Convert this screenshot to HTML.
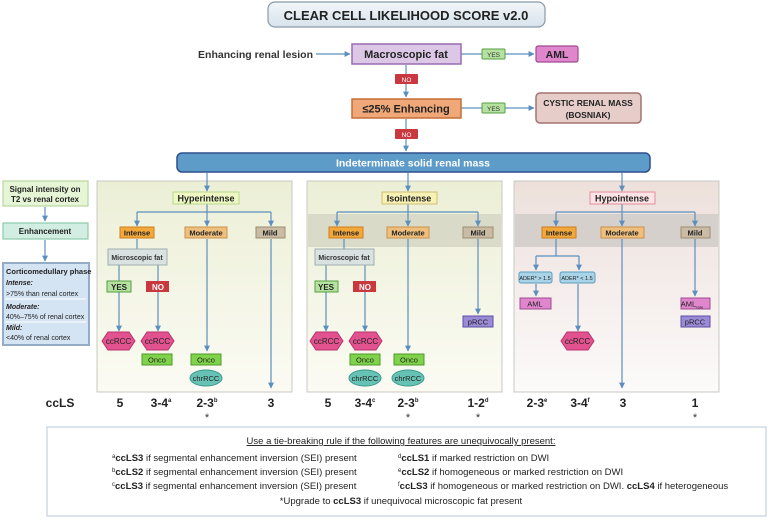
<!DOCTYPE html>
<html><head><meta charset="utf-8"><style>
html,body{margin:0;padding:0;background:#fff}
svg{display:block}
text{font-family:"Liberation Sans Narrow","Liberation Sans",sans-serif}
</style></head><body>
<svg width="774" height="523" viewBox="0 0 774 523" xmlns="http://www.w3.org/2000/svg">
<defs>
<marker id="a" viewBox="0 0 10 10" refX="9" refY="5" markerWidth="5" markerHeight="5" orient="auto"><path d="M0,0L10,5L0,10z" fill="#5b8fbf"/></marker>
<linearGradient id="g1" x1="0" y1="0" x2="0" y2="1"><stop offset="0" stop-color="#ecefd6"/><stop offset="1" stop-color="#fbfbf4"/></linearGradient>
<linearGradient id="g3" x1="0" y1="0" x2="0" y2="1"><stop offset="0" stop-color="#ede0db"/><stop offset="1" stop-color="#fcfafa"/></linearGradient>
<linearGradient id="tb" x1="0" y1="0" x2="0" y2="1"><stop offset="0" stop-color="#f2f6f9"/><stop offset="1" stop-color="#d7e3ec"/></linearGradient>
</defs>
<!-- title -->
<rect x="268" y="2" width="277" height="25" rx="7" fill="url(#tb)" stroke="#8a9aa6" stroke-width="1.2"/>
<text x="406" y="20" font-size="13" font-weight="bold" text-anchor="middle" fill="#222">CLEAR CELL LIKELIHOOD SCORE v2.0</text>
<!-- top flow -->
<text x="313" y="58" font-size="10.5" font-weight="bold" text-anchor="end" fill="#333">Enhancing renal lesion</text>
<g stroke="#5b8fbf" stroke-width="1.2" fill="none" marker-end="url(#a)">
<line x1="316" y1="54" x2="350" y2="54"/>
<line x1="505" y1="54" x2="534" y2="54"/>
<line x1="406" y1="65" x2="406" y2="97"/>
<line x1="505" y1="108" x2="534" y2="108"/>
<line x1="406" y1="119" x2="406" y2="151"/>
</g>
<line x1="461" y1="54" x2="482" y2="54" stroke="#5b8fbf" stroke-width="1.2"/>
<line x1="461" y1="108" x2="482" y2="108" stroke="#5b8fbf" stroke-width="1.2"/>
<rect x="352" y="44" width="109" height="20" fill="#dcc8e6" stroke="#9a6cb0" stroke-width="1.5"/>
<text x="406" y="58" font-size="11" font-weight="bold" text-anchor="middle" fill="#222">Macroscopic fat</text>
<rect x="482" y="49" width="23" height="10" rx="1" fill="#b6e2a1" stroke="#56a044"/>
<text x="493.5" y="57" font-size="6.5" text-anchor="middle" fill="#333">YES</text>
<rect x="536" y="46" width="42" height="16" rx="2" fill="#df86cc" stroke="#a04b92" stroke-width="1.2"/>
<text x="557" y="58" font-size="10.5" font-weight="bold" text-anchor="middle" fill="#222">AML</text>
<rect x="395" y="74" width="23" height="10" rx="1" fill="#c9373f"/>
<text x="406.5" y="82" font-size="6.5" text-anchor="middle" fill="#fff">NO</text>
<rect x="352" y="99" width="109" height="19" fill="#f0a878" stroke="#c46e39" stroke-width="1.5"/>
<text x="406" y="112.5" font-size="11" font-weight="bold" text-anchor="middle" fill="#222">≤25% Enhancing</text>
<rect x="482" y="103" width="23" height="10" rx="1" fill="#b6e2a1" stroke="#56a044"/>
<text x="493.5" y="111" font-size="6.5" text-anchor="middle" fill="#333">YES</text>
<rect x="536" y="93" width="105" height="30" rx="4" fill="#e6cdc9" stroke="#a07470" stroke-width="1.5"/>
<text x="588" y="106" font-size="8.5" font-weight="bold" text-anchor="middle" fill="#222">CYSTIC RENAL MASS</text>
<text x="588" y="118" font-size="8.5" font-weight="bold" text-anchor="middle" fill="#222">(BOSNIAK)</text>
<rect x="395" y="129" width="23" height="10" rx="1" fill="#c9373f"/>
<text x="406.5" y="137" font-size="6.5" text-anchor="middle" fill="#fff">NO</text>
<!-- indeterminate bar -->
<rect x="177" y="153" width="473" height="19" rx="5" fill="#5d9bc8" stroke="#2f4f8e" stroke-width="1.5"/>
<text x="413" y="166.5" font-size="10.5" font-weight="bold" text-anchor="middle" fill="#fff">Indeterminate  solid renal mass</text>
<!-- panels -->
<rect x="97" y="181" width="195" height="211" fill="url(#g1)" stroke="#c8c8c0"/>
<rect x="307" y="181" width="195" height="211" fill="url(#g1)" stroke="#c8c8c0"/>
<rect x="308" y="214" width="193" height="33" fill="#d9dac8"/>
<rect x="514" y="181" width="205" height="211" fill="url(#g3)" stroke="#c8c8c0"/>
<rect x="515" y="214" width="203" height="33" fill="#d6d0cd"/>
<!-- connectors -->
<g stroke="#5b8fbf" stroke-width="1.2" fill="none">
<line x1="207" y1="204" x2="207" y2="212"/><line x1="137" y1="212" x2="271" y2="212"/>
<line x1="408" y1="204" x2="408" y2="212"/><line x1="337" y1="212" x2="478" y2="212"/>
<line x1="622" y1="204" x2="622" y2="212"/><line x1="556" y1="212" x2="695" y2="212"/>
<line x1="137" y1="239" x2="137" y2="249"/>
<line x1="344" y1="239" x2="344" y2="249"/>
<line x1="556" y1="239" x2="556" y2="256"/><line x1="536" y1="256" x2="579" y2="256"/>
</g>
<g stroke="#5b8fbf" stroke-width="1.2" fill="none" marker-end="url(#a)">
<line x1="207" y1="173" x2="207" y2="191"/>
<line x1="408" y1="173" x2="408" y2="191"/>
<line x1="622" y1="173" x2="622" y2="191"/>
<line x1="137" y1="212" x2="137" y2="226"/><line x1="207" y1="212" x2="207" y2="226"/><line x1="271" y1="212" x2="271" y2="226"/>
<line x1="337" y1="212" x2="337" y2="226"/><line x1="408" y1="212" x2="408" y2="226"/><line x1="478" y1="212" x2="478" y2="226"/>
<line x1="556" y1="212" x2="556" y2="226"/><line x1="622" y1="212" x2="622" y2="226"/><line x1="695" y1="212" x2="695" y2="226"/>
<line x1="119" y1="292" x2="119" y2="331"/><line x1="158" y1="292" x2="158" y2="331"/>
<line x1="207" y1="239" x2="207" y2="351"/><line x1="271" y1="239" x2="271" y2="388"/>
<line x1="326" y1="292" x2="326" y2="331"/><line x1="365" y1="292" x2="365" y2="331"/>
<line x1="408" y1="239" x2="408" y2="351"/><line x1="478" y1="239" x2="478" y2="314"/>
<line x1="536" y1="256" x2="536" y2="270"/><line x1="579" y1="256" x2="579" y2="270"/>
<line x1="536" y1="284" x2="536" y2="296"/><line x1="578" y1="284" x2="578" y2="331"/>
<line x1="622" y1="239" x2="622" y2="388"/><line x1="695" y1="239" x2="695" y2="296"/>
</g>
<g stroke="#5b8fbf" stroke-width="1.2" fill="none">
<line x1="158" y1="265" x2="158" y2="281"/><line x1="119" y1="265" x2="119" y2="281"/>
<line x1="365" y1="265" x2="365" y2="281"/><line x1="326" y1="265" x2="326" y2="281"/>
</g>
<!-- level 1 labels -->
<rect x="173" y="192" width="66" height="12" fill="#eef8c4" stroke="#b8d88a"/>
<text x="206" y="201.5" font-size="9" font-weight="bold" text-anchor="middle" fill="#222">Hyperintense</text>
<rect x="382" y="192" width="55" height="12" fill="#f7f1b4" stroke="#cdbf72"/>
<text x="409" y="201.5" font-size="9" font-weight="bold" text-anchor="middle" fill="#222">Isointense</text>
<rect x="590" y="192" width="65" height="12" fill="#fbe3e6" stroke="#e38e9a"/>
<text x="622" y="201.5" font-size="9" font-weight="bold" text-anchor="middle" fill="#222">Hypointense</text>
<!-- enhancement labels -->
<g font-size="7.5" font-weight="bold" text-anchor="middle" fill="#222">
<rect x="120" y="227" width="34" height="11" fill="#f2a83a" stroke="#cf7e1c"/><text x="137" y="235.5">Intense</text>
<rect x="185" y="227" width="42" height="11" fill="#efc07d" stroke="#c9914a"/><text x="206" y="235.5">Moderate</text>
<rect x="256" y="227" width="29" height="11" fill="#c9bba4" stroke="#9d8d73"/><text x="270" y="235.5">Mild</text>
<rect x="329" y="227" width="34" height="11" fill="#f2a83a" stroke="#cf7e1c"/><text x="346" y="235.5">Intense</text>
<rect x="387" y="227" width="42" height="11" fill="#efc07d" stroke="#c9914a"/><text x="408" y="235.5">Moderate</text>
<rect x="463" y="227" width="30" height="11" fill="#c9bba4" stroke="#9d8d73"/><text x="478" y="235.5">Mild</text>
<rect x="542" y="227" width="34" height="11" fill="#f2a83a" stroke="#cf7e1c"/><text x="559" y="235.5">Intense</text>
<rect x="601" y="227" width="43" height="11" fill="#efc07d" stroke="#c9914a"/><text x="622" y="235.5">Moderate</text>
<rect x="681" y="227" width="29" height="11" fill="#c9bba4" stroke="#9d8d73"/><text x="695" y="235.5">Mild</text>
</g>
<!-- microscopic fat -->
<g font-size="7" font-weight="bold" text-anchor="middle" fill="#333">
<rect x="108" y="249" width="59" height="16" fill="#d9e1e1" stroke="#a0aeae"/><text x="137" y="260">Microscopic fat</text>
<rect x="315" y="249" width="59" height="16" fill="#d9e1e1" stroke="#a0aeae"/><text x="344" y="260">Microscopic fat</text>
</g>
<g font-size="8" font-weight="bold" text-anchor="middle">
<rect x="107" y="281" width="24" height="11" fill="#b6e2a1" stroke="#56a044"/><text x="119" y="290" fill="#222">YES</text>
<rect x="146" y="281" width="23" height="11" fill="#c9373f"/><text x="158" y="290" fill="#fff">NO</text>
<rect x="315" y="281" width="23" height="11" fill="#b6e2a1" stroke="#56a044"/><text x="326" y="290" fill="#222">YES</text>
<rect x="353" y="281" width="23" height="11" fill="#c9373f"/><text x="365" y="290" fill="#fff">NO</text>
</g>
<!-- hexagons -->
<g font-size="8" text-anchor="middle" fill="#222">
<polygon points="102,341 108,332 129,332 135,341 129,350 108,350" fill="#e2528f" stroke="#b8336c"/><text x="118.5" y="344">ccRCC</text>
<polygon points="141,341 147,332 168,332 174,341 168,350 147,350" fill="#e2528f" stroke="#b8336c"/><text x="157.5" y="344">ccRCC</text>
<polygon points="310,341 316,332 337,332 343,341 337,350 316,350" fill="#e2528f" stroke="#b8336c"/><text x="326.5" y="344">ccRCC</text>
<polygon points="349,341 355,332 376,332 382,341 376,350 355,350" fill="#e2528f" stroke="#b8336c"/><text x="365.5" y="344">ccRCC</text>
<polygon points="561,341 567,332 588,332 594,341 588,350 567,350" fill="#e2528f" stroke="#b8336c"/><text x="577.5" y="344">ccRCC</text>
</g>
<g font-size="7.5" text-anchor="middle" fill="#222">
<rect x="142" y="354" width="30" height="11" fill="#7fd34a" stroke="#4f9a2a"/><text x="157" y="362.5">Onco</text>
<rect x="191" y="354" width="30" height="11" fill="#7fd34a" stroke="#4f9a2a"/><text x="206" y="362.5">Onco</text>
<rect x="350" y="354" width="30" height="11" fill="#7fd34a" stroke="#4f9a2a"/><text x="365" y="362.5">Onco</text>
<rect x="394" y="354" width="30" height="11" fill="#7fd34a" stroke="#4f9a2a"/><text x="409" y="362.5">Onco</text>
<ellipse cx="206" cy="378" rx="16" ry="8" fill="#66c2b4" stroke="#3c9a8c"/><text x="206" y="381">chrRCC</text>
<ellipse cx="365" cy="378" rx="16" ry="8" fill="#66c2b4" stroke="#3c9a8c"/><text x="365" y="381">chrRCC</text>
<ellipse cx="408" cy="378" rx="16" ry="8" fill="#66c2b4" stroke="#3c9a8c"/><text x="408" y="381">chrRCC</text>
<rect x="463" y="316" width="30" height="11" fill="#9b8ad6" stroke="#5e4fa5"/><text x="478" y="324.5">pRCC</text>
<rect x="681" y="316" width="29" height="11" fill="#9b8ad6" stroke="#5e4fa5"/><text x="695" y="324.5">pRCC</text>
<rect x="520" y="298" width="31" height="11" fill="#df86cc" stroke="#a04b92"/><text x="535" y="306.5">AML</text>
<rect x="681" y="298" width="29" height="11" fill="#df86cc" stroke="#a04b92"/><text x="692" y="306.5">AML<tspan font-size="4" dy="2">rare</tspan></text>
</g>
<g font-size="5.5" text-anchor="middle" fill="#222">
<rect x="519" y="272" width="33" height="11" rx="2" fill="#a9d3e6" stroke="#5b9cbf"/><text x="535" y="280">ADER* &gt; 1.5</text>
<rect x="560" y="272" width="35" height="11" rx="2" fill="#a9d3e6" stroke="#5b9cbf"/><text x="577" y="280">ADER* &lt; 1.5</text>
</g>
<!-- left sidebar -->
<rect x="3" y="181" width="85" height="25" fill="#e6f5d6" stroke="#b7d69e" stroke-width="1.2"/>
<text x="45" y="192" font-size="8" font-weight="bold" text-anchor="middle" fill="#222">Signal intensity on</text>
<text x="45" y="202" font-size="8" font-weight="bold" text-anchor="middle" fill="#222">T2 vs renal cortex</text>
<line x1="45" y1="207" x2="45" y2="221" stroke="#5b8fbf" stroke-width="1.2" marker-end="url(#a)"/>
<rect x="3" y="223" width="85" height="16" fill="#d2ede2" stroke="#8ccbae" stroke-width="1.2"/>
<text x="45" y="234" font-size="8" font-weight="bold" text-anchor="middle" fill="#222">Enhancement</text>
<line x1="45" y1="240" x2="45" y2="261" stroke="#5b8fbf" stroke-width="1.2" marker-end="url(#a)"/>
<rect x="3" y="263" width="86" height="82" fill="#d5e4f3" stroke="#94acc8" stroke-width="2"/>
<g font-size="7" fill="#222">
<text x="6" y="274" font-size="7.5" font-weight="bold">Corticomedullary phase</text>
<text x="6" y="285" font-style="italic" font-weight="bold">Intense:</text>
<text x="6" y="296">&gt;75% than renal cortex</text>
<line x1="5" y1="299" x2="86" y2="299" stroke="#fff"/>
<text x="6" y="309" font-style="italic" font-weight="bold">Moderate:</text>
<text x="6" y="319">40%–75% of renal cortex</text>
<line x1="5" y1="322" x2="86" y2="322" stroke="#fff"/>
<text x="6" y="330" font-style="italic" font-weight="bold">Mild:</text>
<text x="6" y="340">&lt;40% of renal cortex</text>
</g>
<!-- scores -->
<g font-size="12" font-weight="bold" text-anchor="middle" fill="#222">
<text x="60" y="407">ccLS</text>
<text x="120" y="407">5</text><text x="161" y="407">3-4<tspan font-size="6" dy="-5">a</tspan></text>
<text x="207" y="407">2-3<tspan font-size="6" dy="-5">b</tspan></text><text x="271" y="407">3</text>
<text x="328" y="407">5</text><text x="365" y="407">3-4<tspan font-size="6" dy="-5">c</tspan></text>
<text x="408" y="407">2-3<tspan font-size="6" dy="-5">b</tspan></text><text x="478" y="407">1-2<tspan font-size="6" dy="-5">d</tspan></text>
<text x="537" y="407">2-3<tspan font-size="6" dy="-5">e</tspan></text><text x="580" y="407">3-4<tspan font-size="6" dy="-5">f</tspan></text>
<text x="623" y="407">3</text><text x="695" y="407">1</text>
</g>
<g font-size="11" text-anchor="middle" fill="#333">
<text x="207" y="421">*</text><text x="408" y="421">*</text><text x="478" y="421">*</text><text x="695" y="421">*</text>
</g>
<!-- footnote -->
<rect x="47" y="427" width="719" height="89" fill="#fff" stroke="#c4d0dc" stroke-width="1.2"/>
<g font-size="9.5" fill="#222">
<text x="401" y="444" text-anchor="middle" text-decoration="underline">Use a tie-breaking rule if the following features are unequivocally present:</text>
<text x="112" y="461"><tspan font-size="6" dy="-3">a</tspan><tspan dy="3" font-weight="bold">ccLS3</tspan> if segmental enhancement inversion (SEI) present</text>
<text x="112" y="475"><tspan font-size="6" dy="-3">b</tspan><tspan dy="3" font-weight="bold">ccLS2</tspan> if segmental enhancement inversion (SEI) present</text>
<text x="112" y="489"><tspan font-size="6" dy="-3">c</tspan><tspan dy="3" font-weight="bold">ccLS3</tspan> if segmental enhancement inversion (SEI) present</text>
<text x="398" y="461"><tspan font-size="6" dy="-3">d</tspan><tspan dy="3" font-weight="bold">ccLS1</tspan> if marked restriction on DWI</text>
<text x="398" y="475"><tspan font-size="6" dy="-3">e</tspan><tspan dy="3" font-weight="bold">ccLS2</tspan> if homogeneous or marked restriction on DWI</text>
<text x="398" y="489"><tspan font-size="6" dy="-3">f</tspan><tspan dy="3" font-weight="bold">ccLS3</tspan> if homogeneous or marked restriction on DWI. <tspan font-weight="bold">ccLS4</tspan> if heterogeneous</text>
<text x="401" y="504" text-anchor="middle">*Upgrade to <tspan font-weight="bold">ccLS3</tspan> if unequivocal microscopic fat present</text>
</g>
</svg>
</body></html>
